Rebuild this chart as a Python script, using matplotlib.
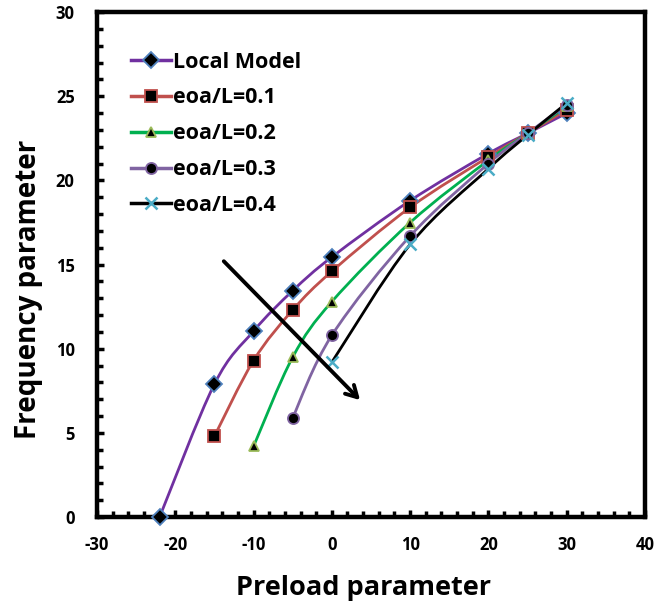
import matplotlib
matplotlib.use("Agg")
import matplotlib.pyplot as plt
import numpy as np
from matplotlib.path import Path
from matplotlib.patches import PathPatch
from matplotlib.lines import Line2D
from matplotlib.ticker import MultipleLocator

plt.rcParams['font.family'] = ['Open Sans', 'DejaVu Sans']
plt.rcParams['font.weight'] = 'bold'
plt.rcParams['axes.unicode_minus'] = False

series_names = ["Local Model", "eoa/L=0.1", "eoa/L=0.2", "eoa/L=0.3", "eoa/L=0.4"]
x_local = [-22, -15, -10, -5, 0, 10, 20, 25, 30]
y_local = [0.0, 7.9, 11.05, 13.45, 15.45, 18.8, 21.6, 22.8, 24.0]
x_01 = [-15, -10, -5, 0, 10, 20, 25, 30]
y_01 = [4.8, 9.3, 12.3, 14.6, 18.4, 21.4, 22.8, 24.2]
x_02 = [-10, -5, 0, 10, 20, 25, 30]
y_02 = [4.2, 9.5, 12.8, 17.5, 21.2, 22.8, 24.4]
x_03 = [-5, 0, 10, 20, 25, 30]
y_03 = [5.9, 10.8, 16.7, 21.0, 22.8, 24.5]
x_04 = [0, 10, 20, 25, 30]
y_04 = [9.2, 16.2, 20.7, 22.7, 24.6]

xs = [x_local, x_01, x_02, x_03, x_04]
ys = [y_local, y_01, y_02, y_03, y_04]
line_colors = ["#7030A0", "#C0504D", "#00B050", "#8064A2", "#000000"]
markers = ["D", "s", "^", "o", "x"]
m_face = ["black", "black", "black", "black", "#4BACC6"]
m_edge = ["#4F81BD", "#C0504D", "#9BBB59", "#8064A2", "#4BACC6"]
m_size = [8, 8, 7, 8, 8]

fig = plt.figure(figsize=(6.67, 6.09), dpi=100)
ax = fig.add_axes([0.1454, 0.151, 0.8216, 0.829])


def smooth_path(x, y):
    pts = np.column_stack([x, y]).astype(float)
    n = len(pts)
    verts = [pts[0]]
    codes = [Path.MOVETO]
    for i in range(n - 1):
        p0 = pts[i - 1] if i > 0 else pts[i]
        p1 = pts[i]
        p2 = pts[i + 1]
        p3 = pts[i + 2] if i + 2 < n else pts[i + 1]
        c1 = p1 + (p2 - p0) / 6.0
        c2 = p2 - (p3 - p1) / 6.0
        verts += [c1, c2, p2]
        codes += [Path.CURVE4] * 3
    return Path(verts, codes)


handles = []
for name, x, y, lc, mk, mf, me, ms in zip(series_names, xs, ys, line_colors,
                                           markers, m_face, m_edge, m_size):
    patch = PathPatch(smooth_path(x, y), facecolor='none', edgecolor=lc, lw=2.0, zorder=3)
    ax.add_patch(patch)
    mew = 1.3 if mk != 'x' else 1.8
    ax.plot(x, y, linestyle='none', marker=mk, markersize=ms,
            markerfacecolor=mf, markeredgecolor=me, markeredgewidth=mew,
            zorder=4, clip_on=False)
    handles.append(Line2D([], [], color=lc, lw=2.5, marker=mk, markersize=ms,
                          markerfacecolor=mf, markeredgecolor=me,
                          markeredgewidth=mew))

ax.annotate("", xy=(3.6, 6.95), xytext=(-13.8, 15.2),
            arrowprops=dict(arrowstyle="->,head_length=0.8,head_width=0.45",
                            color="black", lw=2.8, shrinkA=0, shrinkB=0),
            zorder=5)

ax.set_xlim(-30, 40)
ax.set_ylim(0, 30)
ax.xaxis.set_major_locator(MultipleLocator(10))
ax.xaxis.set_minor_locator(MultipleLocator(2))
ax.yaxis.set_major_locator(MultipleLocator(5))
ax.yaxis.set_minor_locator(MultipleLocator(1))
ax.tick_params(which='both', direction='in', width=2.5, top=False, right=False)
ax.tick_params(which='major', length=5, labelsize=12, pad=14)
ax.tick_params(which='minor', length=4)
ax.tick_params(axis='y', pad=16)
for lab in ax.get_xticklabels() + ax.get_yticklabels():
    lab.set_fontweight('bold')
for sp in ax.spines.values():
    sp.set_linewidth(3.2)

ax.set_xlabel("Preload parameter", fontsize=19.5, fontweight='bold', labelpad=10)
ax.set_ylabel("Frequency parameter", fontsize=20, fontweight='bold', labelpad=10)
ax.xaxis.set_label_coords(0.487, -0.115)
ax.yaxis.set_label_coords(-0.098, 0.45)

leg = ax.legend(handles, series_names, loc='upper left', bbox_to_anchor=(0.062, 0.922),
                frameon=False, prop={'weight': 'bold', 'size': 15.5},
                handlelength=1.86, handletextpad=0.1, labelspacing=0.69,
                borderpad=0, borderaxespad=0)

fig.savefig("out.png", dpi=100)
